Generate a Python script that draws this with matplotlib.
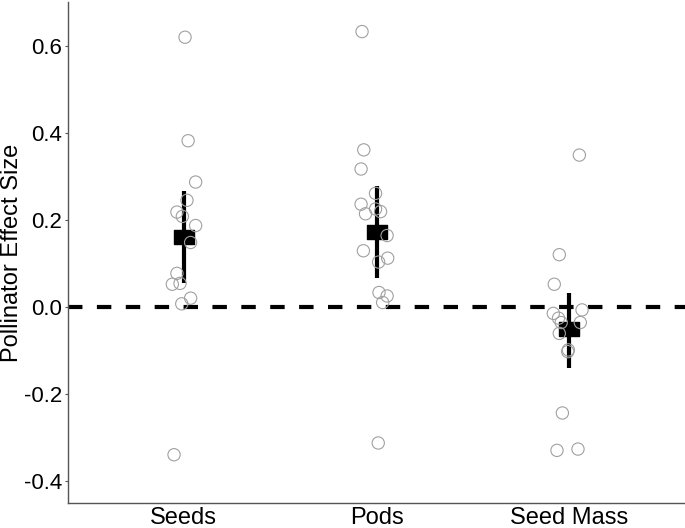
import matplotlib.pyplot as plt
import numpy as np
from matplotlib.path import Path

plt.rcParams['font.family'] = ['Liberation Sans', 'DejaVu Sans']
plt.rcParams['lines.scale_dashes'] = False

categories = ['Seeds', 'Pods', 'Seed Mass']

# raw effect sizes (value, jitter offset in category units)
seeds_y = [0.620, 0.382, 0.287, 0.245, 0.218, 0.208, 0.187, 0.148, 0.077,
           0.052, 0.054, 0.020, 0.007, -0.340]
seeds_jit = [0.007, 0.023, 0.062, 0.017, -0.035, -0.007, 0.062, 0.036, -0.035,
             -0.059, -0.019, 0.036, -0.010, -0.050]
pods_y = [0.633, 0.361, 0.317, 0.261, 0.236, 0.214, 0.225, 0.219, 0.164,
          0.129, 0.112, 0.103, 0.033, 0.025, 0.010, -0.313]
pods_jit = [-0.075, -0.066, -0.080, -0.005, -0.080, -0.057, -0.005, 0.021, 0.055,
            -0.068, 0.058, 0.011, 0.013, 0.055, 0.032, 0.009]
mass_y = [0.349, 0.120, 0.052, -0.015, -0.007, -0.026, -0.036, -0.036, -0.061,
          -0.099, -0.103, -0.244, -0.330, -0.327]
mass_jit = [0.052, -0.052, -0.078, -0.083, 0.066, -0.056, -0.042, 0.057, -0.052,
            -0.005, -0.008, -0.036, -0.064, 0.045]

means = [0.161, 0.172, -0.051]
ci_low = [0.054, 0.066, -0.141]
ci_high = [0.267, 0.277, 0.033]

raw_y = [seeds_y, pods_y, mass_y]
raw_jit = [seeds_jit, pods_jit, mass_jit]

fig = plt.figure(figsize=(6.85, 5.28), dpi=100)
ax = fig.add_axes([68 / 685, 1 - 503 / 528, 617 / 685, 501 / 528])

ax.axhline(0, color='black', lw=3, dashes=(10.4, 10.4), zorder=1)

xpos = np.arange(1, len(categories) + 1)
for i in range(len(categories)):
    ax.vlines(xpos[i], ci_low[i], ci_high[i], color='black', lw=3,
              linestyles='solid', zorder=2)

rect = Path([(-1.45, -1), (1.45, -1), (1.45, 1), (-1.45, 1), (-1.45, -1)],
            [Path.MOVETO, Path.LINETO, Path.LINETO, Path.LINETO, Path.CLOSEPOLY])
ax.scatter(xpos, means, marker=rect, s=210, color='black', zorder=3)

for i in range(len(categories)):
    xs = xpos[i] + np.array(raw_jit[i])
    ax.scatter(xs, raw_y[i], s=78, facecolors='none', edgecolors='#a0a0a0',
               linewidths=0.8, zorder=4)

ax.set_xlim(0.4, 3.6)
ax.set_ylim(-0.451, 0.701)
ax.set_xticks(xpos)
ax.set_xticklabels(categories)
ax.set_yticks([-0.4, -0.2, 0.0, 0.2, 0.4, 0.6])
ax.set_yticklabels(['-0.4', '-0.2', '0.0', '0.2', '0.4', '0.6'])
ax.tick_params(axis='x', labelsize=17, colors='black', length=0, pad=3)
ax.tick_params(axis='y', labelsize=16, labelcolor='black', length=2,
               width=0.8, color='#555555', pad=2)
ax.set_ylabel('Pollinator Effect Size', fontsize=17, va='center')
ax.yaxis.set_label_coords(-0.09, 0.5)

for s in ['top', 'right']:
    ax.spines[s].set_visible(False)
for s in ['left', 'bottom']:
    ax.spines[s].set_color('#555555')
    ax.spines[s].set_linewidth(1)

fig.savefig('out.png', dpi=100)
